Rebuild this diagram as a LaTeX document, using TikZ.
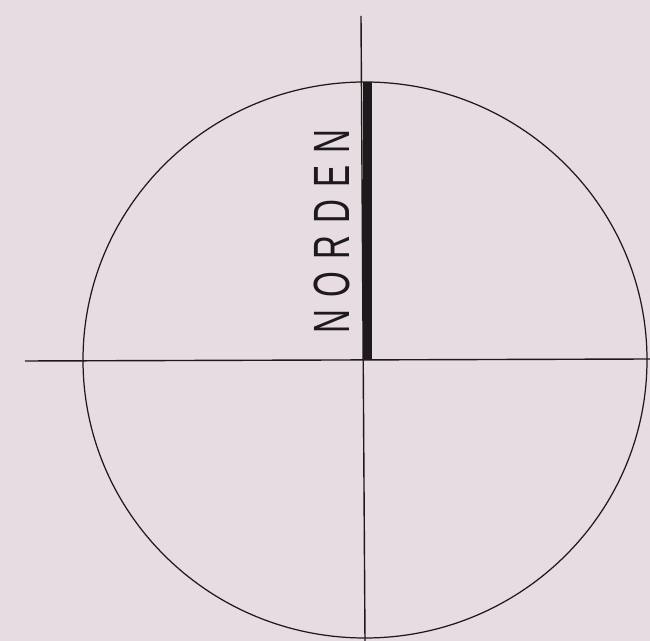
\documentclass[tikz,border=0pt]{standalone}
\usepackage{fontspec}
\setsansfont{Liberation Sans}
\definecolor{paper}{HTML}{E6DCE1}
\definecolor{ink}{HTML}{1E1A1C}

\begin{document}
\begin{tikzpicture}[
    x=0.02cm, y=-0.02cm,
    axis/.style={draw=ink, line width=0.8pt},
    rim/.style={draw=ink, line width=0.7pt},
    needle/.style={fill=ink},
    northlabel/.style={font=\fontsize{29}{29}\selectfont\sffamily, text=ink, rotate=90, inner sep=0pt},
]
\fill[paper] (0,0) rectangle (650,641);
\useasboundingbox (0,0) rectangle (650,641);

\coordinate (centre) at (365,360);
\draw[rim] (centre) ellipse [x radius=282, y radius=278];

% axes
\coordinate (ntop) at (361,16);
\coordinate (sbot) at (365,641);
\coordinate (west) at (25,361);
\coordinate (east) at (650,359);
\draw[axis] (ntop) -- (sbot);
\draw[axis] (west) -- (east);

% north needle and label
\fill[needle] (363,82) rectangle (372,360);
\node[northlabel] (north) at (331.5,231.5) {\scalebox{0.65}[1]{\addfontfeature{LetterSpace=36}NORDEN}};

\end{tikzpicture}
\end{document}
